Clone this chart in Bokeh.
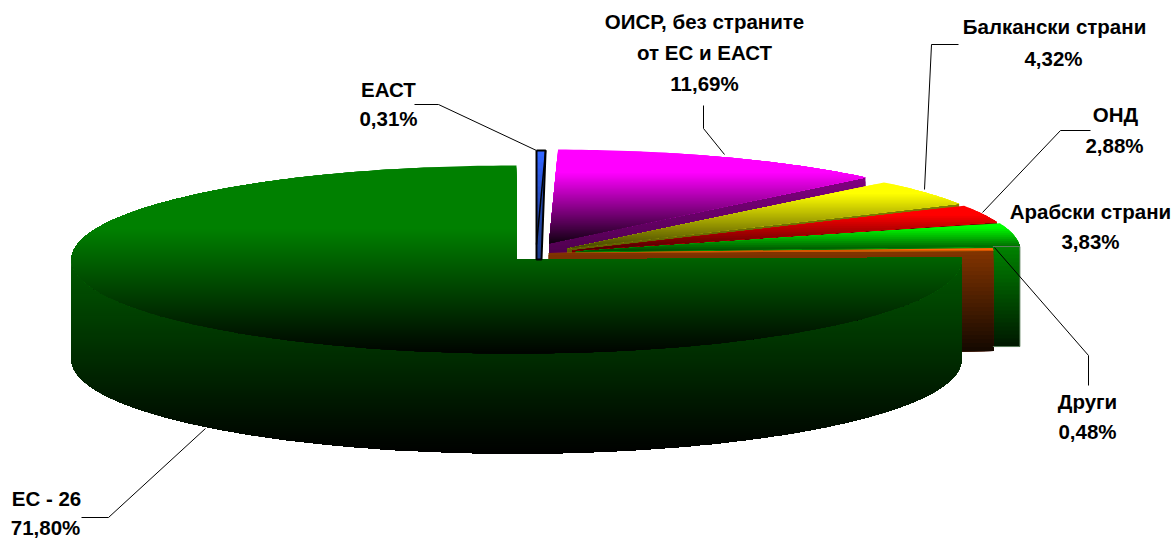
import math
from bokeh.plotting import figure
from bokeh.models import Range1d, ColumnDataSource
from bokeh.core.properties import value
from bokeh.embed import file_html
from bokeh.resources import INLINE

# ---- data
names = ["ЕАСТ", "ОИСР, без страните\nот ЕС и ЕАСТ", "Балкански страни", "ОНД", "Арабски страни", "Други", "ЕС - 26"]
shares = [0.31, 11.69, 4.32, 2.88, 3.83, 0.48, 71.80]

# ---- styling / layout
top_colors = [(0x33, 0x66, 0xff), (255, 0, 255), (255, 255, 0), (255, 0, 0), (0, 255, 0), (255, 102, 0), (0, 128, 0)]
face_colors = [(0x2a, 0x55, 0xc8), (128, 0, 128), (128, 128, 0), (128, 0, 0), (0, 128, 0), (128, 51, 0), (0, 88, 0)]
top_dark = [0.5, 0.05, 0.25, 0.25, 0.25, 0.6, 0.02]
top_hold = [0, 22, 10, 8, 3, 0, 62]
apexes = [(536, 244), (548.5, 243), (567, 248), (572, 250), (575, 251), (548, 252.5), (516, 259)]
RX, RY, DEPTH = 445, 94, 100
label_pos = [
    [(388, 89), (388, 118)],
    [(704, 21), (704, 52), (704, 83)],
    [(1054, 26), (1053, 58)],
    [(1115, 114), (1114, 145)],
    [(1090, 211), (1090, 241)],
    [(1087, 401), (1087, 431)],
    [(46, 498), (45, 527)],
]
leaders = [
    [(414, 104), (438, 104), (536, 150)],
    [(703, 105), (703, 128), (724, 154)],
    [(958, 44), (931, 44), (924, 189)],
    [(1090, 130), (1060, 130), (982, 212)],
    [(994, 247), (1088, 355), (1088, 385)],
    [(81, 517), (108, 517), (205, 428)],
]

W, H = 1172, 538
p = figure(width=W, height=H, x_range=Range1d(0, W), y_range=Range1d(H, 0),
           output_backend="svg", toolbar_location=None, min_border=0, outline_line_color=None,
           background_fill_color="white", border_fill_color="white")
p.xaxis.visible = False
p.yaxis.visible = False
p.grid.visible = False

total = sum(shares)
edges = [0.0]
for s in shares:
    edges.append(edges[-1] + s / total * 360)


def rim(apex, t, dy=0):
    r = math.radians(t)
    return (apex[0] + RX * math.sin(r), apex[1] - RY * math.cos(r) + dy)


def arc(apex, t0, t1, dy=0):
    n = max(2, int(abs(t1 - t0) / 1.0) + 1)
    return [rim(apex, t0 + (t1 - t0) * i / (n - 1), dy) for i in range(n)]


def clip_below(poly, y0):
    out = []
    for i, a in enumerate(poly):
        b = poly[(i + 1) % len(poly)]
        if a[1] >= y0:
            out.append(a)
        if (a[1] >= y0) != (b[1] >= y0):
            f = (y0 - a[1]) / (b[1] - a[1])
            out.append((a[0] + f * (b[0] - a[0]), y0))
    return out


xs_all, ys_all, cols = [], [], []


def hexc(c):
    return "#%02x%02x%02x" % tuple(max(0, min(255, int(round(v)))) for v in c)


def gradient(poly, c0, f1, y0=None, y1=None, step=3):
    """paint poly top-down, each layer covering everything below it"""
    lowest = max(q[1] for q in poly)
    top_y = min(q[1] for q in poly)
    lo = top_y if y0 is None else y0
    hi = lowest if y1 is None else y1
    y = top_y
    while y < lowest:
        f = min(1, max(0, (y - lo) / (hi - lo)))
        k = 1 + (f1 - 1) * f
        c = [v * k for v in c0]
        cl = clip_below(poly, y)
        if len(cl) >= 3:
            xs_all.append([q[0] for q in cl])
            ys_all.append([q[1] for q in cl])
            cols.append(hexc(c))
        y += step


outlines = []
a0 = apexes[0]
sliver = [rim(a0, edges[0]), rim(a0, edges[1]), (a0[0] + 5, 259), (a0[0], 259)]
for i, s in enumerate(shares):
    a = apexes[i]
    t0, t1 = edges[i], edges[i + 1]
    top = [a] + arc(a, t0, t1)
    y_start = min(q[1] for q in top) + top_hold[i]
    if i == len(shares) - 1:
        # outer wall of the large slice, then its top
        wall_top = arc(a, t0, 270)
        wall_bot = arc(a, 270, t0, DEPTH)
        gradient(wall_top + wall_bot, face_colors[i], 0.0, y0=a[1], y1=a[1] + RY + DEPTH, step=2)
        gradient(top, top_colors[i], top_dark[i], y0=y_start, step=2)
    elif i == 0:
        gradient(sliver, face_colors[i], 0.7, step=6)
        gradient(top, top_colors[i], top_dark[i], step=6)
    else:
        # cut face at the slice's clockwise end, then the top
        tip = rim(a, t1)
        face = [a, tip, (tip[0], tip[1] + DEPTH), (a[0], a[1] + DEPTH)]
        gradient(face, face_colors[i], 0.12, step=4)
        gradient(top, top_colors[i], top_dark[i], y0=y_start, step=2)
        if i == 4:
            outlines = [(tip[0] - 27, tip[1]), tip, (tip[0], tip[1] + DEPTH), (tip[0] - 27, tip[1] + DEPTH)]

p.patches("xs", "ys", source=ColumnDataSource(dict(xs=xs_all, ys=ys_all, c=cols)),
          fill_color="c", line_color=None)

p.line([q[0] for q in outlines], [q[1] for q in outlines], line_color="#5f7f5f", line_width=1)

sl_x = [q[0] for q in sliver] + [sliver[0][0]]
sl_y = [q[1] for q in sliver] + [sliver[0][1]]
p.line(sl_x, sl_y, line_color="black", line_width=2)
p.line([sliver[1][0], a0[0]], [sliver[1][1], a0[1]], line_color="black", line_width=1.5)

for pts in leaders:
    p.line([q[0] for q in pts], [q[1] for q in pts], line_color="black", line_width=1)

tx, ty, tt = [], [], []
for i, (nm, s) in enumerate(zip(names, shares)):
    lines = nm.split("\n") + [f"{s:.2f}".replace(".", ",") + "%"]
    for ln, pos in zip(lines, label_pos[i]):
        tx.append(pos[0]); ty.append(pos[1]); tt.append(ln)
p.text(tx, ty, text=tt, text_font=value("Liberation Sans"), text_font_style="bold",
       text_font_size="20.5px", text_color="black", text_align="center", text_baseline="middle")

open("out.html", "w").write(file_html(p, INLINE))
